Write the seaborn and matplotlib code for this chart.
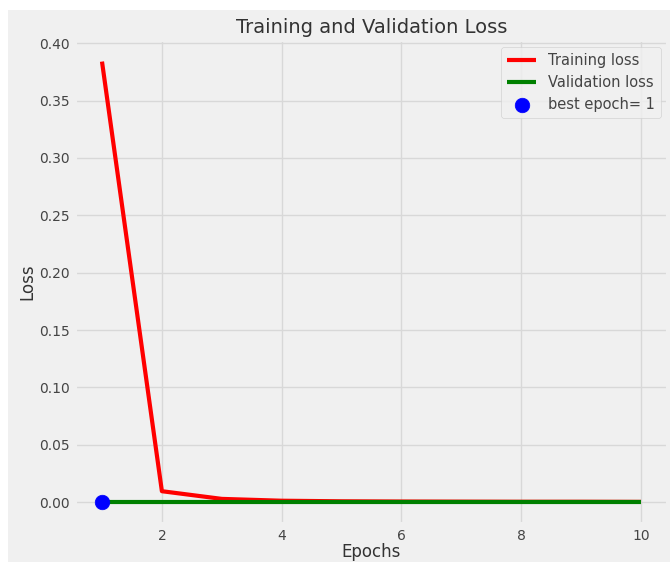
import matplotlib
matplotlib.use("Agg")
import matplotlib.pyplot as plt
import matplotlib.patches as mpatches
import pandas as pd
import seaborn as sns

# Data
epochs = [1, 2, 3, 4, 5, 6, 7, 8, 9, 10]
train_loss = [0.384, 0.0095, 0.0028, 0.0012, 0.0007, 0.0005, 0.0004, 0.0003, 0.0003, 0.0002]
val_loss = [0.0001, 0.0001, 0.0001, 0.0001, 0.0001, 0.0001, 0.0001, 0.0001, 0.0001, 0.0001]
best_epoch = 1

df = pd.DataFrame({"epoch": epochs, "train": train_loss, "val": val_loss})

plt.style.use("fivethirtyeight")
plt.rcParams["font.family"] = ["DejaVu Sans"]

fig = plt.figure(figsize=(6.7, 5.62), dpi=100, facecolor="white")
# grey figure area, image is cropped with a white strip top and left
fig.patches.append(mpatches.Rectangle((8 / 670, 0), 1, (562 - 10) / 562,
                                      transform=fig.transFigure, facecolor="#f0f0f0",
                                      edgecolor="none", zorder=-10))
ax = fig.add_axes([0.112, 0.0676, 0.885, 0.862])
ax.set_facecolor("#f0f0f0")

sns.lineplot(data=df, x="epoch", y="train", color="red", linewidth=3, label="Training loss", ax=ax)
sns.lineplot(data=df, x="epoch", y="val", color="green", linewidth=3, label="Validation loss", ax=ax)
ax.scatter([best_epoch], [val_loss[best_epoch - 1]], s=110, color="blue", zorder=5,
           label="best epoch= " + str(best_epoch))

ax.set_title("Training and Validation Loss", fontsize=14, color="#333333", pad=5)
ax.set_xlabel("Epochs", fontsize=12, color="#333333", labelpad=0)
ax.set_ylabel("Loss", fontsize=12, color="#333333", labelpad=2)
ax.tick_params(labelsize=10, colors="#444444")
ax.set_xticks([2, 4, 6, 8, 10])
ax.set_yticks([0.0, 0.05, 0.10, 0.15, 0.20, 0.25, 0.30, 0.35, 0.40])
ax.yaxis.set_major_formatter(matplotlib.ticker.FormatStrFormatter("%.2f"))
ax.grid(True, color="#d8d8d8", linewidth=1)
leg = ax.legend(loc="upper right", fontsize=10.5, facecolor="#f0f0f0", framealpha=0.8)
for t in leg.get_texts():
    t.set_color("#444444")

fig.savefig("out.png", dpi=100, facecolor=fig.get_facecolor())
